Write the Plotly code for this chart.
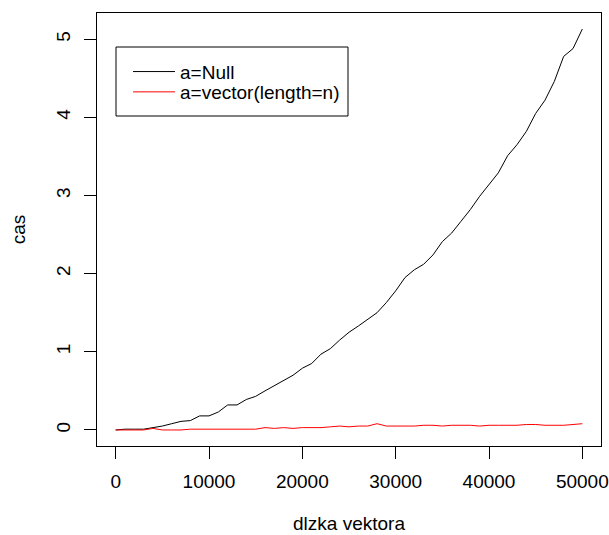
import plotly.graph_objects as go

# data
n_values = list(range(0, 50001, 1000))
time_null = [0.00, 0.01, 0.01, 0.01, 0.03, 0.05, 0.08, 0.11, 0.12, 0.18,
             0.18, 0.23, 0.32, 0.32, 0.39, 0.43, 0.50, 0.57, 0.63, 0.70,
             0.79, 0.85, 0.97, 1.04, 1.15, 1.25, 1.33, 1.42, 1.50, 1.63,
             1.78, 1.95, 2.05, 2.12, 2.24, 2.41, 2.52, 2.67, 2.82, 2.99,
             3.14, 3.29, 3.51, 3.65, 3.82, 4.05, 4.22, 4.46, 4.78, 4.88,
             5.13]
time_vector = [0.00, 0.00, 0.00, 0.00, 0.02, 0.00, 0.00, 0.00, 0.01, 0.01,
               0.01, 0.01, 0.01, 0.01, 0.01, 0.01, 0.03, 0.02, 0.03, 0.02,
               0.03, 0.03, 0.03, 0.04, 0.05, 0.04, 0.05, 0.05, 0.08, 0.05,
               0.05, 0.05, 0.05, 0.06, 0.06, 0.05, 0.06, 0.06, 0.06, 0.05,
               0.06, 0.06, 0.06, 0.06, 0.07, 0.07, 0.06, 0.06, 0.06, 0.07,
               0.08]
series_names = ["a=Null", "a=vector(length=n)"]
x_ticks = [0, 10000, 20000, 30000, 40000, 50000]
y_ticks = [0, 1, 2, 3, 4, 5]
x_title = "dlzka vektora"
y_title = "cas"

FONT = "Liberation Sans, Arial, Helvetica, sans-serif"
FS = 19

fig = go.Figure()
fig.add_trace(go.Scatter(x=n_values, y=time_null, mode="lines", name=series_names[0],
                         line=dict(color="black", width=1), legend="legend"))
fig.add_trace(go.Scatter(x=n_values, y=time_vector, mode="lines", name=series_names[1],
                         line=dict(color="red", width=1), legend="legend2"))

xmin, xmax = min(n_values), max(n_values)
ymax = max(max(time_null), max(time_vector))
ymin = 0
xpad = (xmax - xmin) * 0.04
ypad = (ymax - ymin) * 0.04

# plot area in pixels: x 97..601, y 13..446
PL, PR, PT, PB = 97, 601, 13, 446
def px_x(p):
    return (p - PL) / (PR - PL)
def px_y(p):
    return (PB - p) / (PB - PT)

leg_common = dict(xanchor="left", yanchor="middle", bgcolor="rgba(0,0,0,0)",
                  borderwidth=0, itemwidth=42,
                  font=dict(family=FONT, size=FS, color="black"))

fig.update_layout(
    width=609, height=535,
    margin=dict(l=PL, r=609 - PR, t=PT, b=535 - PB, autoexpand=False),
    paper_bgcolor="white", plot_bgcolor="white",
    font=dict(family=FONT, size=FS, color="black"),
    showlegend=True,
    legend=dict(x=px_x(128), y=px_y(71.7), **leg_common),
    legend2=dict(x=px_x(128), y=px_y(92), **leg_common),
    shapes=[dict(type="rect", xref="paper", yref="paper",
                 x0=px_x(116), x1=px_x(348), y0=px_y(116), y1=px_y(47),
                 line=dict(color="black", width=1), fillcolor="white",
                 layer="above")],
)
fig.update_xaxes(range=[xmin - xpad, xmax + xpad], tickvals=x_ticks,
                 ticktext=[str(v) for v in x_ticks],
                 showgrid=False, zeroline=False, showline=True, mirror=True,
                 linecolor="black", linewidth=1, ticks="outside", ticklen=12,
                 tickcolor="black", tickwidth=1, ticklabelstandoff=6,
                 title=dict(text=x_title, standoff=25,
                            font=dict(family=FONT, size=FS, color="black")),
                 automargin=False)
fig.update_yaxes(range=[ymin - ypad, ymax + ypad], tickvals=y_ticks,
                 ticktext=[str(v) for v in y_ticks], tickangle=-90,
                 showgrid=False, zeroline=False, showline=True, mirror=True,
                 linecolor="black", linewidth=1, ticks="outside", ticklen=12,
                 tickcolor="black", tickwidth=1, ticklabelstandoff=6,
                 title=dict(text=y_title, standoff=22,
                            font=dict(family=FONT, size=FS, color="black")),
                 automargin=False)

fig.write_html("out.html")
